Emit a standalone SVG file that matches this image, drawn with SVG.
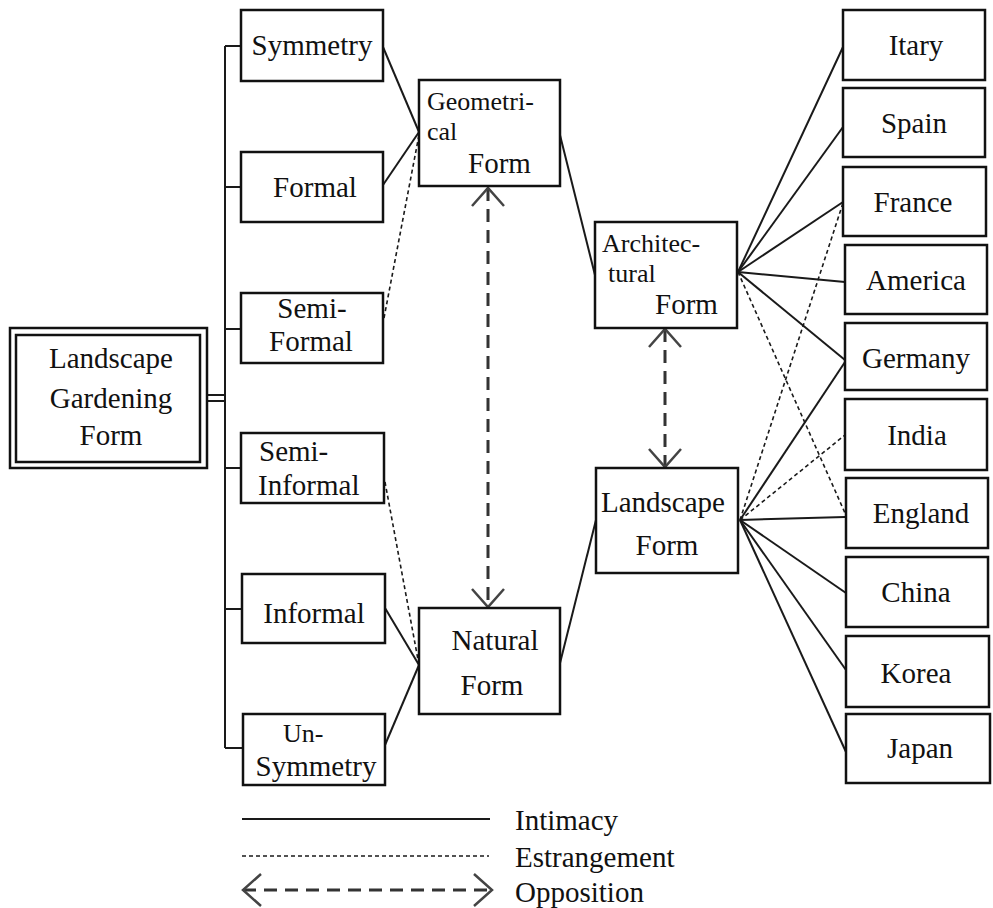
<svg xmlns="http://www.w3.org/2000/svg" width="993" height="908" viewBox="0 0 993 908">
<style>
.box{fill:#fff;stroke:#111;stroke-width:2.5}
.t{font-family:"Liberation Serif","DejaVu Serif",serif;font-size:29px;fill:#111}
.s{font-size:26px}
.m{text-anchor:middle}
.solid{stroke:#1a1a1a;stroke-width:2;fill:none}
.dot{stroke:#1a1a1a;stroke-width:1.6;stroke-dasharray:4 3;fill:none}
.opp{stroke:#333;stroke-width:3;stroke-dasharray:13 8;fill:none}
</style>
<defs>
<marker id="vh" markerUnits="userSpaceOnUse" viewBox="-20 -18 22 36" refX="0" refY="0" markerWidth="22" markerHeight="36" orient="auto-start-reverse">
<path d="M-18,-16 L0,0 L-18,16" fill="none" stroke="#444" stroke-width="2.5"/>
</marker>
</defs>
<g id="connectors">
<line class="solid" x1="207" y1="395" x2="225" y2="395"/>
<line class="solid" x1="207" y1="401" x2="225" y2="401"/>
<line class="solid" x1="225" y1="46" x2="225" y2="748" stroke-width="2.5"/>
<line class="solid" x1="225" y1="46" x2="241" y2="46"/>
<line class="solid" x1="225" y1="187" x2="241" y2="187"/>
<line class="solid" x1="225" y1="329" x2="241" y2="329"/>
<line class="solid" x1="225" y1="468" x2="241" y2="468"/>
<line class="solid" x1="225" y1="609" x2="242" y2="609"/>
<line class="solid" x1="225" y1="748" x2="243" y2="748"/>
<line class="solid" x1="383" y1="47" x2="419" y2="132"/>
<line class="solid" x1="383" y1="185" x2="419" y2="132"/>
<line class="dot" x1="384" y1="318" x2="419" y2="135"/>
<line class="dot" x1="385" y1="482" x2="419" y2="665"/>
<line class="solid" x1="385" y1="608" x2="419" y2="665"/>
<line class="solid" x1="385" y1="745" x2="419" y2="665"/>
<line class="solid" x1="560" y1="135" x2="595" y2="275"/>
<line class="solid" x1="560" y1="663" x2="596" y2="520"/>
<line class="opp" x1="488" y1="188" x2="488" y2="607" marker-start="url(#vh)" marker-end="url(#vh)"/>
<line class="opp" x1="665" y1="329" x2="665" y2="467" marker-start="url(#vh)" marker-end="url(#vh)"/>
<line class="solid" x1="738" y1="272" x2="843" y2="47"/>
<line class="solid" x1="738" y1="272" x2="843" y2="127"/>
<line class="solid" x1="738" y1="272" x2="843" y2="202"/>
<line class="solid" x1="738" y1="272" x2="845" y2="282"/>
<line class="solid" x1="738" y1="272" x2="845" y2="360"/>
<line class="dot" x1="738" y1="272" x2="845" y2="513"/>
<line class="dot" x1="740" y1="520" x2="843" y2="203"/>
<line class="solid" x1="740" y1="520" x2="845" y2="362"/>
<line class="dot" x1="740" y1="520" x2="845" y2="435"/>
<line class="solid" x1="740" y1="520" x2="845" y2="517"/>
<line class="solid" x1="740" y1="520" x2="846" y2="593"/>
<line class="solid" x1="740" y1="520" x2="846" y2="670"/>
<line class="solid" x1="740" y1="520" x2="846" y2="752"/>
</g>
<g id="n-main">
<rect class="box" x="10" y="328" width="197" height="140"/>
<rect class="box" x="16" y="335" width="184" height="127" stroke-width="2"/>
<text class="t m" x="111" y="368">Landscape</text>
<text class="t m" x="111" y="408">Gardening</text>
<text class="t m" x="111" y="445">Form</text>
</g>
<g id="n-symmetry"><rect class="box" x="241" y="10" width="142" height="71"/><text class="t m" x="312" y="55">Symmetry</text></g>
<g id="n-formal"><rect class="box" x="241" y="152" width="142" height="70"/><text class="t m" x="315" y="197">Formal</text></g>
<g id="n-semiformal"><rect class="box" x="241" y="293" width="142" height="70"/><text class="t m" x="312" y="318">Semi-</text><text class="t m" x="311" y="351">Formal</text></g>
<g id="n-semiinformal"><rect class="box" x="241" y="433" width="143" height="70"/><text class="t" x="259" y="461">Semi-</text><text class="t" x="258" y="495">Informal</text></g>
<g id="n-informal"><rect class="box" x="242" y="574" width="143" height="69"/><text class="t m" x="314" y="623">Informal</text></g>
<g id="n-unsymmetry"><rect class="box" x="243" y="714" width="142" height="71"/><text class="t s" x="283" y="742">Un-</text><text class="t m" x="316" y="776">Symmetry</text></g>
<g id="n-geometrical"><rect class="box" x="419" y="80" width="141" height="106"/><text class="t s" x="427" y="110">Geometri-</text><text class="t s" x="427" y="140">cal</text><text class="t" x="468" y="173">Form</text></g>
<g id="n-natural"><rect class="box" x="419" y="608" width="141" height="106"/><text class="t m" x="495" y="650">Natural</text><text class="t m" x="492" y="695">Form</text></g>
<g id="n-architectural"><rect class="box" x="595" y="222" width="142" height="106"/><text class="t s" x="602" y="252">Architec-</text><text class="t s" x="608" y="282">tural</text><text class="t" x="655" y="314">Form</text></g>
<g id="n-landscape"><rect class="box" x="596" y="468" width="142" height="105"/><text class="t" x="601" y="512">Landscape</text><text class="t m" x="667" y="555">Form</text></g>
<g id="n-itary"><rect class="box" x="843" y="10" width="142" height="70"/><text class="t m" x="916" y="55">Itary</text></g>
<g id="n-spain"><rect class="box" x="843" y="88" width="142" height="69"/><text class="t m" x="914" y="133">Spain</text></g>
<g id="n-france"><rect class="box" x="843" y="167" width="143" height="69"/><text class="t m" x="913" y="212">France</text></g>
<g id="n-america"><rect class="box" x="845" y="245" width="142" height="69"/><text class="t m" x="916" y="290">America</text></g>
<g id="n-germany"><rect class="box" x="845" y="323" width="142" height="67"/><text class="t m" x="916" y="368">Germany</text></g>
<g id="n-india"><rect class="box" x="845" y="399" width="142" height="71"/><text class="t m" x="917" y="445">India</text></g>
<g id="n-england"><rect class="box" x="846" y="478" width="142" height="70"/><text class="t m" x="921" y="523">England</text></g>
<g id="n-china"><rect class="box" x="846" y="557" width="142" height="70"/><text class="t m" x="916" y="602">China</text></g>
<g id="n-korea"><rect class="box" x="846" y="636" width="143" height="71"/><text class="t m" x="916" y="683">Korea</text></g>
<g id="n-japan"><rect class="box" x="846" y="714" width="144" height="69"/><text class="t m" x="920" y="758">Japan</text></g>
<g id="legend">
<line class="solid" x1="242" y1="819" x2="490" y2="819"/>
<line class="dot" x1="242" y1="856" x2="489" y2="856" stroke-width="2"/>
<line class="opp" x1="243" y1="890" x2="492" y2="890" marker-start="url(#vh)" marker-end="url(#vh)"/>
<text class="t" x="515" y="830">Intimacy</text>
<text class="t" x="515" y="867">Estrangement</text>
<text class="t" x="515" y="902">Opposition</text>
</g>
</svg>
